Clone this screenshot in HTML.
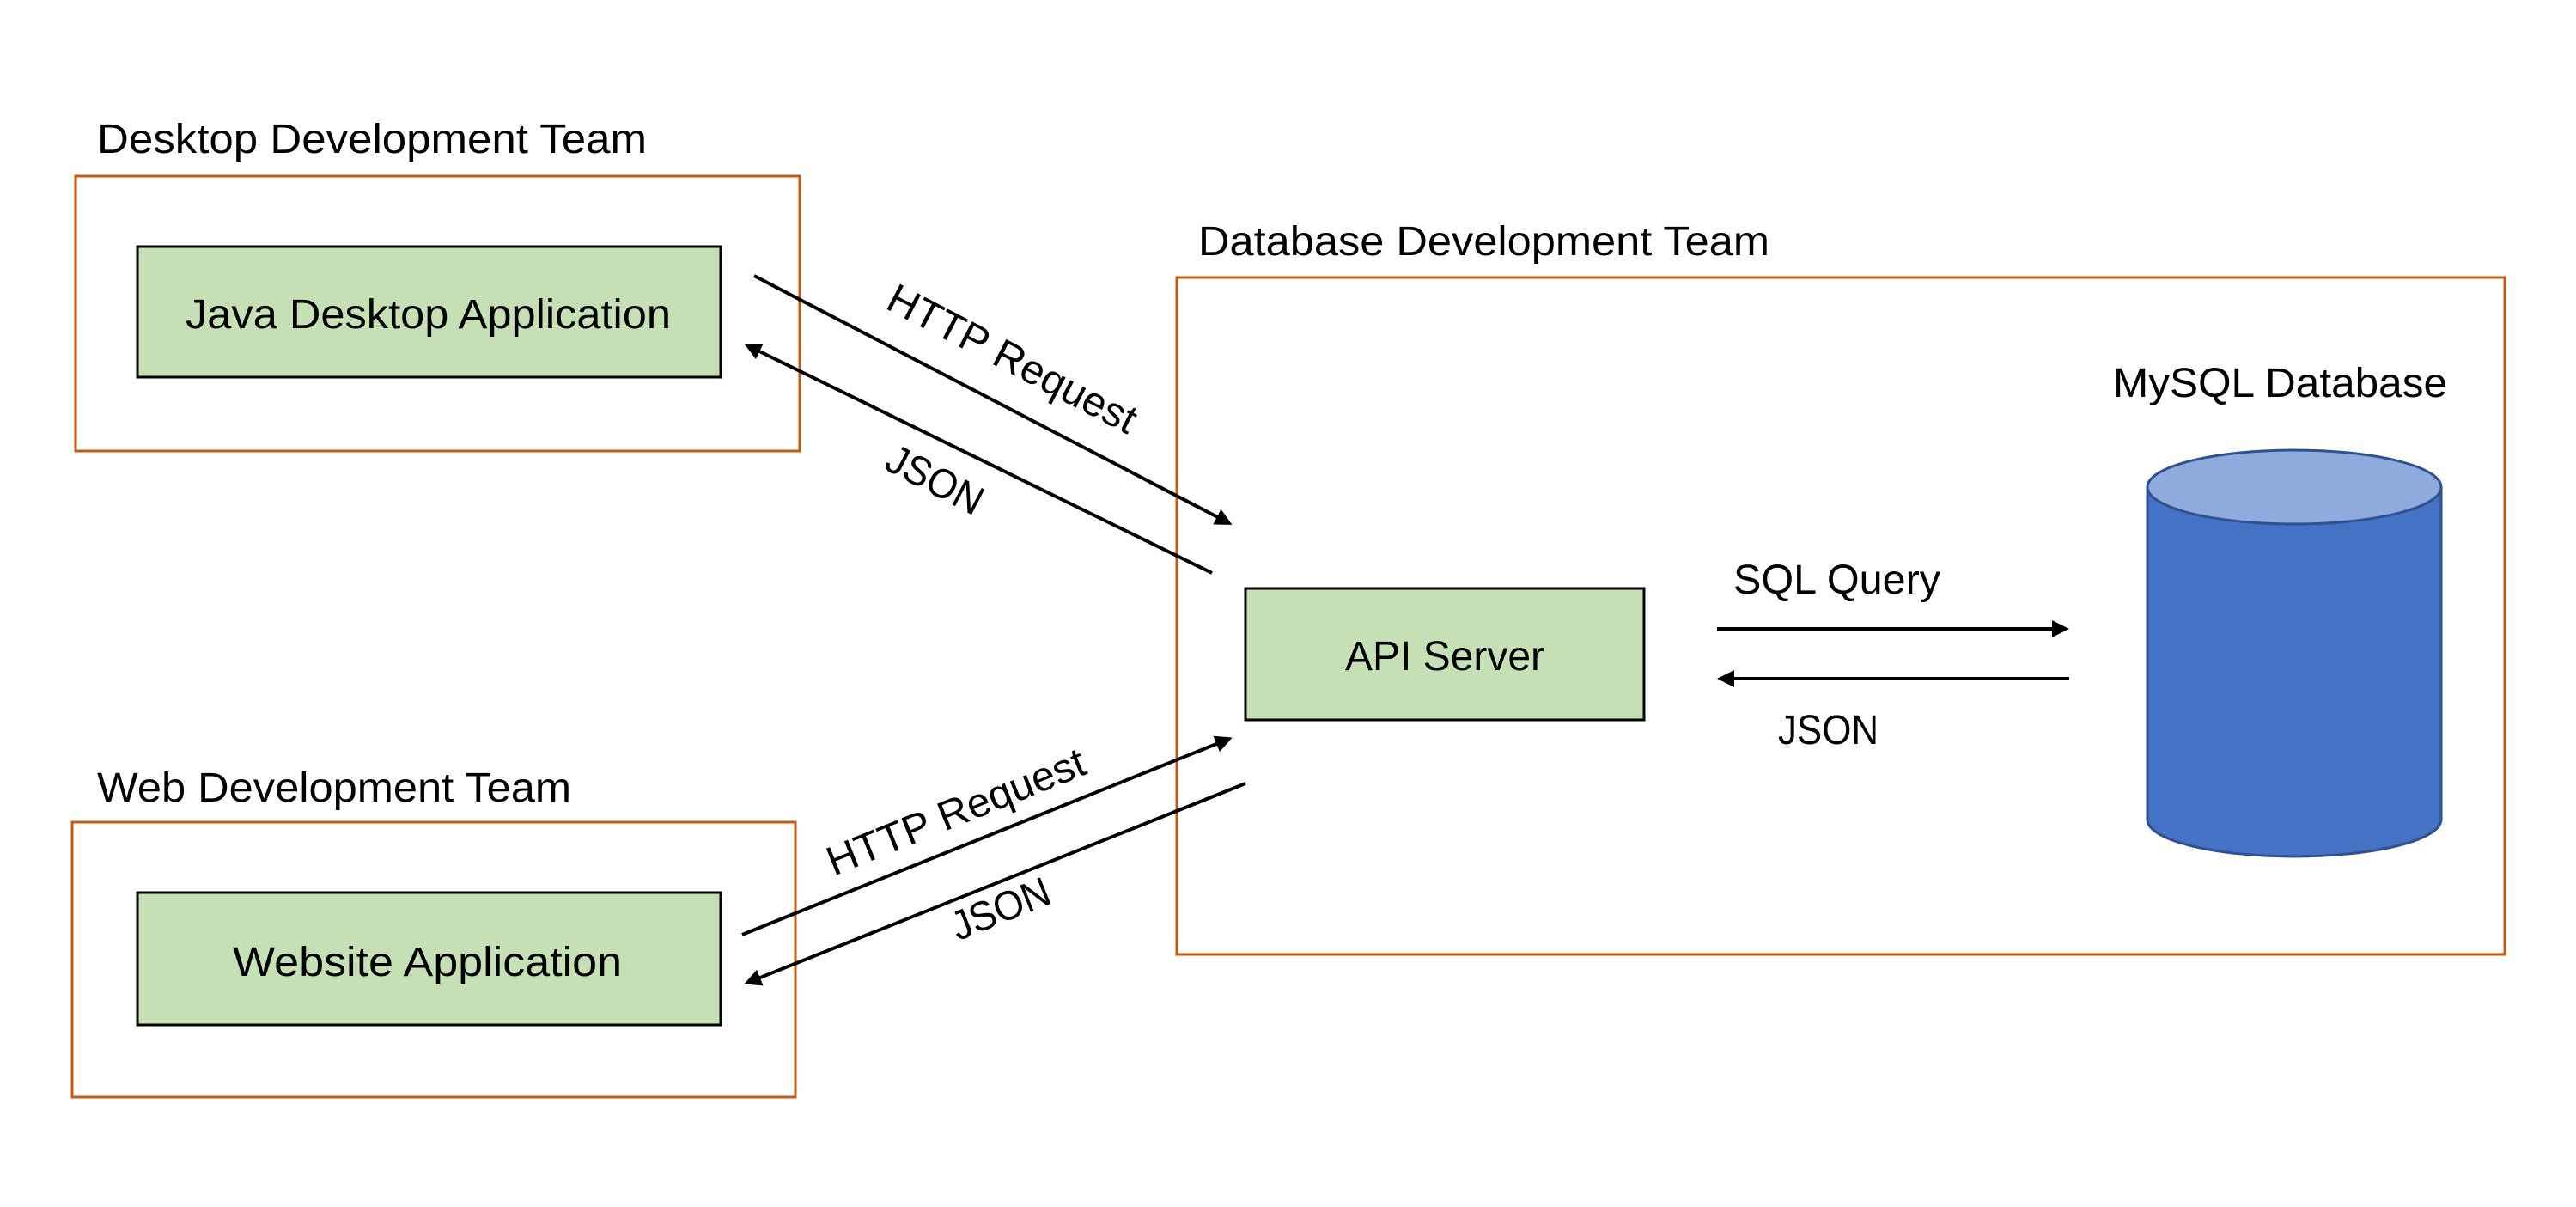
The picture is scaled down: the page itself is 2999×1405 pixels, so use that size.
<!DOCTYPE html>
<html><head><meta charset="utf-8"><style>html,body{margin:0;padding:0;background:#fff}svg{display:block}</style></head>
<body>
<svg width="2999" height="1405" viewBox="0 0 2999 1405" xmlns="http://www.w3.org/2000/svg" font-family="Liberation Sans, sans-serif" font-size="48" fill="#000">
<defs>
<marker id="ah" markerWidth="5" markerHeight="5" refX="4" refY="2.5" orient="auto" markerUnits="strokeWidth">
<path d="M0,0 L5,2.5 L0,5 z" fill="#000"/>
</marker>
</defs>
<rect x="88" y="205" width="843" height="320" fill="none" stroke="#C55A11" stroke-width="3"/>
<rect x="84" y="957" width="842" height="320" fill="none" stroke="#C55A11" stroke-width="3"/>
<rect x="1370" y="323" width="1546" height="788" fill="none" stroke="#C55A11" stroke-width="3"/>
<text x="113" y="178" textLength="640" lengthAdjust="spacingAndGlyphs">Desktop Development Team</text>
<text x="113" y="933" textLength="552" lengthAdjust="spacingAndGlyphs">Web Development Team</text>
<text x="1395" y="297" textLength="665" lengthAdjust="spacingAndGlyphs">Database Development Team</text>
<rect x="160" y="287" width="679" height="152" fill="#C5E0B4" stroke="#000" stroke-width="3"/>
<text x="216" y="382" textLength="565" lengthAdjust="spacingAndGlyphs">Java Desktop Application</text>
<rect x="160" y="1039" width="679" height="154" fill="#C5E0B4" stroke="#000" stroke-width="3"/>
<text x="271" y="1136" textLength="453" lengthAdjust="spacingAndGlyphs">Website Application</text>
<rect x="1450" y="685" width="464" height="153" fill="#C5E0B4" stroke="#000" stroke-width="3"/>
<text x="1682" y="780" text-anchor="middle" textLength="232" lengthAdjust="spacingAndGlyphs">API Server</text>
<g stroke="#000" stroke-width="4" fill="none">
<line x1="878" y1="321" x2="1431" y2="609" marker-end="url(#ah)"/>
<line x1="1411" y1="667" x2="870" y2="402" marker-end="url(#ah)"/>
<line x1="864" y1="1088" x2="1431" y2="860" marker-end="url(#ah)"/>
<line x1="1450" y1="912" x2="870" y2="1144" marker-end="url(#ah)"/>
<line x1="1999" y1="732" x2="2405" y2="732" marker-end="url(#ah)"/>
<line x1="2409" y1="790" x2="2003" y2="790" marker-end="url(#ah)"/>
</g>
<text transform="translate(1171,432) rotate(27.5)" text-anchor="middle" textLength="320" lengthAdjust="spacingAndGlyphs">HTTP Request</text>
<text transform="translate(1081,573) rotate(27.5)" text-anchor="middle" textLength="120" lengthAdjust="spacingAndGlyphs">JSON</text>
<text transform="translate(1119,960) rotate(-22)" text-anchor="middle" textLength="320" lengthAdjust="spacingAndGlyphs">HTTP Request</text>
<text transform="translate(1171,1073) rotate(-22)" text-anchor="middle" textLength="120" lengthAdjust="spacingAndGlyphs">JSON</text>
<text x="2018" y="691" textLength="241" lengthAdjust="spacingAndGlyphs">SQL Query</text>
<text x="2070" y="866" textLength="117" lengthAdjust="spacingAndGlyphs">JSON</text>
<path d="M2500,567 L2500,954 A171,43 0 0 0 2842,954 L2842,567 Z" fill="#4472C4" stroke="#2F528F" stroke-width="3"/>
<ellipse cx="2671" cy="567" rx="171" ry="43" fill="#8FAADC" stroke="#2F528F" stroke-width="3"/>
<text x="2460" y="462" textLength="389" lengthAdjust="spacingAndGlyphs">MySQL Database</text>
</svg>
</body></html>
